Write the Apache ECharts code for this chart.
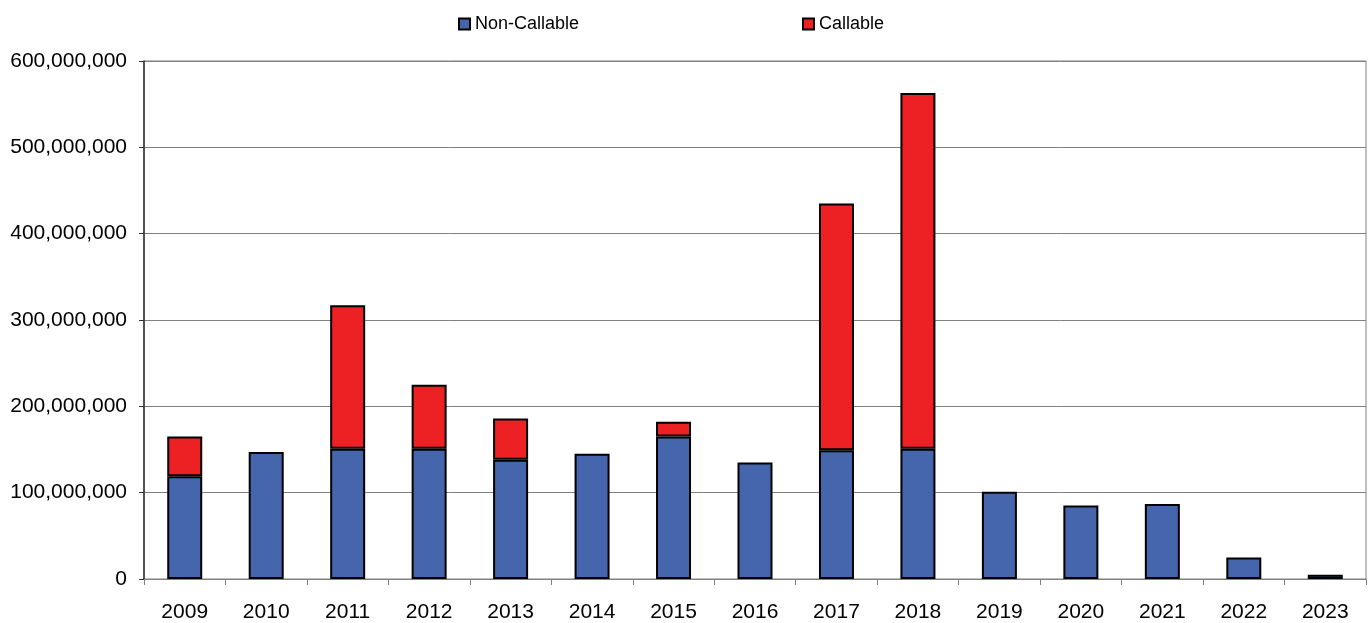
<!DOCTYPE html>
<html>
<head>
<meta charset="utf-8">
<style>
  html, body { margin: 0; padding: 0; background: #fff; }
  #chart { width: 1368px; height: 623px; }
</style>
<script src="https://cdn.jsdelivr.net/npm/echarts@6/dist/echarts.min.js"></script>
</head>
<body>
<div id="chart"></div>
<script>
// Maturity years on the category axis
const years = ['2009', '2010', '2011', '2012', '2013', '2014', '2015', '2016',
               '2017', '2018', '2019', '2020', '2021', '2022', '2023'];

// Amounts per year, stacked: non-callable at the base, callable on top
const nonCallable = [119000000, 147000000, 151000000, 151000000, 138000000, 145000000,
                     165000000, 135000000, 149000000, 151000000, 101000000, 85000000,
                     87000000, 25000000, 5000000];
const callable = [46000000, 0, 166000000, 74000000, 48000000, 0,
                  17000000, 0, 286000000, 412000000, 0, 0,
                  0, 0, 0];

// Value axis ticks
const yMin = 0;
const yMax = 600000000;
const yStep = 100000000;

const FONT = 'Liberation Sans, Arial, sans-serif';
const BLUE = '#4565AD';
const RED = '#ED2024';

const chart = echarts.init(document.getElementById('chart'), null, { renderer: 'canvas' });

const legendCommon = {
  orient: 'horizontal',
  top: 10,
  itemWidth: 11,
  itemHeight: 11,
  icon: 'rect',
  selectedMode: false,
  textStyle: { fontFamily: FONT, fontSize: 18, color: '#000' }
};

chart.setOption({
  animation: false,
  backgroundColor: '#fff',
  textStyle: { fontFamily: FONT },
  legend: [
    Object.assign({ left: 453, data: ['Non-Callable'] }, legendCommon),
    Object.assign({ left: 797, data: ['Callable'] }, legendCommon)
  ],
  grid: {
    left: 144,
    right: 2,
    top: 61,
    bottom: 41,
    show: true,
    borderColor: '#808080',
    borderWidth: 1,
    containLabel: false
  },
  xAxis: {
    type: 'category',
    data: years,
    boundaryGap: true,
    axisLine: { show: true, lineStyle: { color: '#808080', width: 1 } },
    axisTick: { show: true, length: 6, alignWithLabel: false, lineStyle: { color: '#808080' } },
    axisLabel: { color: '#000', fontSize: 21, fontFamily: FONT, margin: 23, interval: 0 },
    splitLine: { show: false }
  },
  yAxis: {
    type: 'value',
    min: yMin,
    max: yMax,
    interval: yStep,
    axisLine: { show: true, lineStyle: { color: '#303030', width: 1.5 } },
    axisTick: { show: true, length: 5, lineStyle: { color: '#303030' } },
    axisLabel: {
      color: '#000',
      fontSize: 21,
      fontFamily: FONT,
      margin: 17,
      formatter: v => v.toLocaleString('en-US')
    },
    splitLine: { show: true, lineStyle: { color: '#808080', width: 1 } }
  },
  series: [
    {
      name: 'Non-Callable',
      type: 'bar',
      stack: 'total',
      data: nonCallable,
      barWidth: 35,
      itemStyle: { color: BLUE, borderColor: '#000', borderWidth: 2 }
    },
    {
      name: 'Callable',
      type: 'bar',
      stack: 'total',
      data: callable.map(v => (v === 0 ? null : v)),
      barWidth: 35,
      itemStyle: { color: RED, borderColor: '#000', borderWidth: 2 }
    }
  ]
});
</script>
</body>
</html>
